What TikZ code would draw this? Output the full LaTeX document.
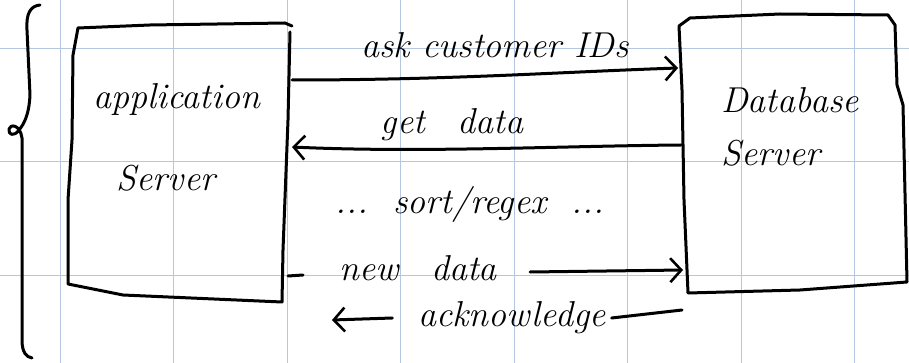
\documentclass[tikz,border=0pt]{standalone}
\usetikzlibrary{arrows.meta}
\definecolor{gridblue}{RGB}{180,198,224}
\newcommand{\wgap}{\hspace{0.9em}}
\tikzset{
  ink/.style={line width=3pt, line cap=round, line join=round, black},
  arr/.style={ink, -{Straight Barb[length=11pt,width=24pt,line width=2.6pt]}},
  hand/.style={font=\fontsize{36}{40}\selectfont\itshape, inner sep=0pt},
  gridline/.style={gridblue, line width=1pt}
}
\begin{document}
\begin{tikzpicture}[x=1pt,y=-1pt]
\useasboundingbox (0,0) rectangle (909,363);
\fill[white] (0,0) rectangle (909,363);
% grid
\foreach \gx in {60,173.5,287,400.5,514,627.5,741,854.5}
  \draw[gridline] (\gx,0) -- (\gx,363);
\foreach \gy in {48.5,162,275.5}
  \draw[gridline] (0,\gy) -- (909,\gy);
% brace
\draw[ink] (40,5) .. controls (30,6) and (26,14) .. (27,30) -- (30,95)
  .. controls (29,115) and (24,124) .. (19,130)
  .. controls (14,137) and (8,135) .. (9,129)
  .. controls (10,124) and (20,124) .. (22,138) -- (22,340)
  .. controls (22,352) and (26,357) .. (32,358);
% application server box
\coordinate (atl) at (78,28);
\coordinate (abr) at (282,302);
\coordinate (abl) at (68,284);
\draw[ink] (atl) -- (73,55) -- (72,140) -- (68,200) -- (abl) -- (123,295) -- (abr)
  -- (283,250) -- (288,120) -- (290,32);
\draw[ink] (atl) -- (150,25) -- (285,23) -- (292,26);
% database server box
\coordinate (dtl) at (679,26);
\coordinate (dbr) at (907,282);
\coordinate (dbl) at (688,293);
\draw[ink] (dtl) -- (690,18) -- (780,14) -- (888,15) -- (895,25) -- (897,85)
  -- (903,105) -- (dbr) -- (800,290) -- (dbl) -- (684,200) -- (682,90) -- cycle;
% box labels
\node[hand] (appl) at (177,100) {application};
\node[hand] (apps) at (166,178) {Server};
\node[hand] (dbl1) at (790,100) {Database};
\node[hand] (dbs) at (771,153) {Server};
% message labels
\node[hand] (ask) at (495,45) {ask customer IDs};
\node[hand] (get) at (452,125) {get\wgap data};
\node[hand] (sort) at (470,205) {...\ \ sort/regex\ \ ...};
\node[hand] (new) at (418,268) {new\wgap data};
\node[hand, outer sep=6pt] (ack) at (512,318) {acknowledge};
% arrow endpoints
\coordinate (askS) at (292,80);
\coordinate (askE) at (678,68);
\coordinate (getS) at (681,145);
\coordinate (getE) at (292,147);
\coordinate (newS) at (288,276);
\coordinate (newE) at (683,270);
\coordinate (ackS) at (682,310);
\coordinate (ackE) at (332,320);
% connectors
\draw[arr] (askS) .. controls (450,80) and (560,72) .. (askE);
\draw[arr] (getS) .. controls (560,146) and (420,153) .. (getE);
\draw[ink] (newS) -- (303,275);
\draw[arr] (530,272) -- (newE);
\draw[ink] (ackS) -- (ack.east);
\draw[arr] (ack.west) ++(-20,0) -- (ackE);
\end{tikzpicture}
\end{document}
